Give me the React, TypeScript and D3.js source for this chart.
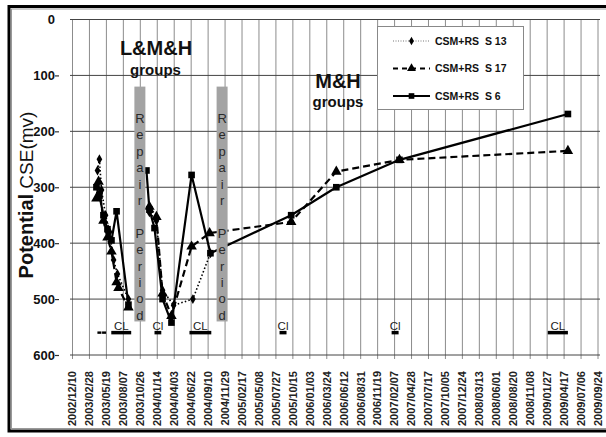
import React from 'react';
import * as d3 from 'd3';

const W = 606;
const H = 437;

const tickLabels = [
  '2002/12/10', '2003/02/28', '2003/05/19', '2003/08/07', '2003/10/26', '2004/01/14',
  '2004/04/03', '2004/06/22', '2004/09/10', '2004/11/29', '2005/02/17', '2005/05/08',
  '2005/07/27', '2005/10/15', '2006/01/03', '2006/03/24', '2006/06/12', '2006/08/31',
  '2006/11/19', '2007/02/07', '2007/04/28', '2007/07/17', '2007/10/05', '2007/12/24',
  '2008/03/13', '2008/06/01', '2008/08/20', '2008/11/08', '2009/01/27', '2009/04/17',
  '2009/07/06', '2009/09/24',
];
const yTicks = [0, 100, 200, 300, 400, 500, 600];

// S13 : dotted, diamonds (null = gap)
const s13Dates = [
  '2003/04/07', '2003/04/16', '2003/04/26', '2003/05/15', '2003/06/03', '2003/06/22', '2003/07/10', '2003/08/31',
  '2003/10/26',
  '2003/12/08', '2004/01/10', '2004/02/08', '2004/03/31', '2004/06/30', '2004/09/21',
];
const s13Values = [270, 250, 305, 350, 380, 430, 455, 500, null, 345, 360, 484, 511, 500, 418];

// S17 : dashed, triangles
const s17Dates = [
  '2003/04/02', '2003/04/12', '2003/05/05', '2003/05/24', '2003/06/12', '2003/07/06', '2003/07/15', '2003/08/31',
  '2003/10/26',
  '2003/12/08', '2004/01/10', '2004/02/08', '2004/03/21', '2004/06/24', '2004/09/17',
  '2005/10/07', '2006/05/08', '2007/03/02', '2009/05/05',
];
const s17Values = [320, 290, 360, 390, 415, 470, 480, 515, null, 335, 353, 490, 530, 406, 382, 362, 272, 251, 235];

// S6 : solid, squares
const s6Dates = [
  '2003/04/02', '2003/04/16', '2003/05/05', '2003/05/24', '2003/06/12', '2003/07/06', '2003/08/31',
  '2003/10/26',
  '2003/11/24', '2003/12/08', '2004/01/01', '2004/02/08', '2004/03/21', '2004/06/24', '2004/09/21',
  '2005/10/07', '2006/05/08', '2007/03/02', '2009/05/05',
];
const s6Values = [300, 315, 350, 375, 395, 343, 510, null, 270, 340, 373, 500, 542, 278, 418, 350, 300, 251, 169];

// Cl marks at -560 mV
const clStart = ['2003/06/11', '2004/01/01', '2004/06/14', '2005/08/13', '2007/01/24', '2009/01/30'];
const clEnd = ['2003/09/13', '2004/02/02', '2004/09/25', '2005/09/15', '2007/02/26', '2009/05/05'];
const clLabels = ['CL', 'Cl', 'CL', 'Cl', 'Cl', 'CL'];
const clDots = ['2003/04/16', '2003/05/08'];
const clValue = 560;

// Repair periods
const repairCenters = ['2003/10/24', '2004/11/15'];
const repairTop = 120;
const repairBottom = 540;
const repairLetters = ['R', 'e', 'p', 'a', 'i', 'r', '', 'P', 'e', 'r', 'i', 'o', 'd'];

const seriesNames = ['CSM+RS  S 13', 'CSM+RS  S 17', 'CSM+RS  S 6'];

const FONT = '"Liberation Sans", Arial, sans-serif';

export default function App() {
  const parse = d3.timeParse('%Y/%m/%d');
  const x = d3
    .scaleTime()
    .domain([parse(tickLabels[0])!, parse(tickLabels[tickLabels.length - 1])!])
    .range([72.5, 598]);
  const y = d3.scaleLinear().domain([0, 600]).range([19.5, 355]);

  const mk = (dates: string[], vals: (number | null)[]) =>
    dates.map((d, i) => ({ date: parse(d)!, v: vals[i] }));
  const s13 = mk(s13Dates, s13Values);
  const s17 = mk(s17Dates, s17Values);
  const s6 = mk(s6Dates, s6Values);

  const line = d3
    .line<{ date: Date; v: number | null }>()
    .defined((d) => d.v != null)
    .x((d) => x(d.date))
    .y((d) => y(d.v as number));

  const diamond = d3.symbol().type(d3.symbolDiamond).size(28)()!;
  const triangle = d3.symbol().type(d3.symbolTriangle).size(48)()!;
  const square = d3.symbol().type(d3.symbolSquare).size(44)()!;

  const series = [
    { data: s13, dash: '1.5,2.2', width: 1.6, sym: diamond },
    { data: s17, dash: '7,4', width: 2.2, sym: triangle },
    { data: s6, dash: undefined, width: 2.2, sym: square },
  ];

  const plotLeft = 70;
  const plotRight = 600;

  return (
    <svg
      width={W}
      height={H}
      style={{ position: 'absolute', left: 0, top: 0, background: '#fff' }}
      fontFamily={FONT}
    >
      <rect x={0} y={0} width={W} height={H} fill="#fff" />
      {/* frame (right side lies beyond the picture) */}
      <rect x={9} y={6.5} width={610} height={424.5} fill="none" stroke="#000" strokeWidth={3} />
      <rect x={11.5} y={9} width={610} height={419.5} fill="none" stroke="#999" strokeWidth={1} />

      {/* vertical grid */}
      {tickLabels.map((t) => {
        const xx = x(parse(t)!);
        return (
          <line key={'v' + t} x1={xx} x2={xx} y1={y(0)} y2={y(600) + 4} stroke="#8c8c8c" strokeWidth={1} />
        );
      })}
      {/* horizontal grid */}
      {yTicks.map((t) => (
        <line key={'h' + t} x1={plotLeft} x2={plotRight} y1={y(t)} y2={y(t)} stroke="#444" strokeWidth={1} />
      ))}
      {/* y tick labels */}
      {yTicks.map((t) => (
        <g key={'yl' + t}>
          <text
            x={55}
            y={y(t)}
            dy="0.35em"
            textAnchor="end"
            fontSize={13}
            fontWeight="bold"
            fill="#111"
          >
            {t}
          </text>
          {t > 0 && <line x1={55} x2={59} y1={y(t) + 0.5} y2={y(t) + 0.5} stroke="#333" strokeWidth={1.2} />}
        </g>
      ))}
      {/* x tick labels */}
      {tickLabels.map((t) => {
        const xx = x(parse(t)!);
        return (
          <text
            key={'xl' + t}
            transform={`translate(${xx},371) rotate(-90)`}
            textAnchor="end"
            dy="0.35em"
            fontSize={11}
            fontWeight="bold"
            fill="#222"
          >
            {t}
          </text>
        );
      })}

      {/* y axis title */}
      <text transform="translate(33,195) rotate(-90)" textAnchor="middle" fill="#111">
        <tspan fontSize={20} fontWeight="bold">Potential</tspan>
        <tspan fontSize={19}> CSE(mv)</tspan>
      </text>

      {/* series */}
      {series.map((s, i) => (
        <g key={'s' + i}>
          <path
            d={line(s.data) || ''}
            fill="none"
            stroke="#000"
            strokeWidth={s.width}
            strokeDasharray={s.dash}
            strokeLinejoin="round"
          />
          {s.data
            .filter((d) => d.v != null)
            .map((d, j) => (
              <path
                key={j}
                d={s.sym}
                transform={`translate(${x(d.date)},${y(d.v as number)})`}
                fill="#000"
              />
            ))}
        </g>
      ))}

      {/* Cl marks */}
      {clStart.map((s, i) => {
        const x1 = x(parse(s)!);
        const x2 = x(parse(clEnd[i])!);
        return (
          <g key={'cl' + i}>
            <line x1={x1} x2={x2} y1={y(clValue)} y2={y(clValue)} stroke="#000" strokeWidth={3.5} />
            <text x={(x1 + x2) / 2} y={330} textAnchor="middle" fontSize={11.5} fill="#222">
              {clLabels[i]}
            </text>
          </g>
        );
      })}
      {clDots.map((d) => (
        <rect key={'cd' + d} x={x(parse(d)!) - 2} y={y(clValue) - 1.2} width={4} height={2.4} fill="#000" />
      ))}

      {/* repair periods */}
      {repairCenters.map((c, i) => {
        const cx = x(parse(c)!);
        return (
          <g key={'rp' + i}>
            <rect
              x={cx - 5.5}
              y={y(repairTop)}
              width={11}
              height={y(repairBottom) - y(repairTop)}
              fill="#a3a3a3"
            />
            {repairLetters.map((l, j) => (
              <text key={j} x={cx} y={123 + j * 16.4} textAnchor="middle" fontSize={13} fill="#2a2a2a">
                {l}
              </text>
            ))}
          </g>
        );
      })}

      {/* group annotations */}
      <text x={156} y={55} textAnchor="middle" fontSize={20} fontWeight="bold" fill="#111">
        L&amp;M&amp;H
      </text>
      <text x={155.5} y={75} textAnchor="middle" fontSize={15} fontWeight="bold" fill="#111">
        groups
      </text>
      <text x={338} y={88} textAnchor="middle" fontSize={20} fontWeight="bold" fill="#111">
        M&amp;H
      </text>
      <text x={338} y={107} textAnchor="middle" fontSize={15} fontWeight="bold" fill="#111">
        groups
      </text>

      {/* legend */}
      <g>
        <rect x={377.5} y={26.5} width={146} height={83} fill="#fff" stroke="#888" strokeWidth={1} />
        {series.map((s, i) => {
          const ly = 41 + i * 27.5;
          return (
            <g key={'lg' + i}>
              <line
                x1={393}
                x2={430}
                y1={ly}
                y2={ly}
                stroke={i === 0 ? '#777' : '#000'}
                strokeWidth={i === 0 ? 1.2 : s.width - 0.4}
                strokeDasharray={i === 0 ? '1,1.5' : s.dash ? '5,4' : undefined}
              />
              <path d={s.sym} transform={`translate(411.5,${ly}) scale(0.85)`} fill="#000" />
              <text
                x={435}
                y={ly}
                dy="0.35em"
                fontSize={10.5}
                fontWeight="bold"
                fill="#111"
                style={{ whiteSpace: 'pre' }}
              >
                {seriesNames[i]}
              </text>
            </g>
          );
        })}
      </g>
    </svg>
  );
}
